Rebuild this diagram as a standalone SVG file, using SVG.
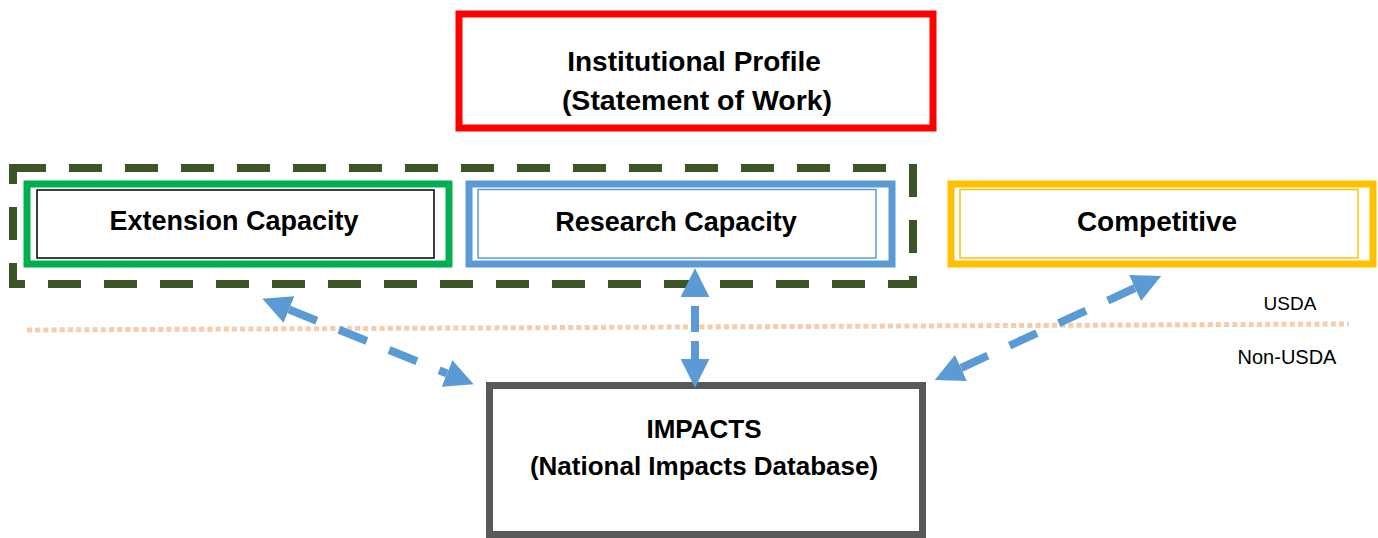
<svg xmlns="http://www.w3.org/2000/svg" width="1378" height="538" viewBox="0 0 1378 538">
<style>
.lbl{font-family:"Liberation Sans",Arial,sans-serif;font-weight:bold;font-size:26px;fill:#000;text-anchor:middle}
.sm{font-family:"Liberation Sans",Arial,sans-serif;font-size:19px;fill:#000;text-anchor:middle}
.box{fill:#fff;stroke-width:7}
.conn{fill:none;stroke:#5B9BD5;stroke-width:8;marker-start:url(#ah);marker-end:url(#ah)}
</style>
<defs>
<marker id="ah" viewBox="0 0 10 10" refX="0" refY="5" markerWidth="3.6" markerHeight="3.6" orient="auto-start-reverse" markerUnits="strokeWidth">
<path d="M0,0 L10,5 L0,10 z" fill="#5B9BD5"/>
</marker>
</defs>
<rect width="1378" height="538" fill="#fff"/>
<g id="divider">
<line x1="27" y1="330" x2="1349" y2="324" stroke="#F8CBAD" stroke-width="5" stroke-dasharray="5 3.2"/>
<text class="sm" x="1290" y="310">USDA</text>
<text class="sm" x="1287" y="364" style="font-size:20px">Non-USDA</text>
</g>
<g id="institutional-profile">
<rect class="box" x="459" y="14" width="474" height="114" stroke="#FF0000"/>
<text class="lbl" x="694" y="71" style="font-size:28px">Institutional Profile</text>
<text class="lbl" x="697" y="110" style="font-size:28.5px">(Statement of Work)</text>
</g>
<g id="capacity-group">
<rect x="13" y="168" width="900" height="116" fill="none" stroke="#3B5526" stroke-width="8" stroke-dasharray="33 23"/>
</g>
<g id="extension-capacity">
<rect class="box" x="27" y="184" width="422" height="80" stroke="#00B050"/>
<rect x="37" y="190" width="397" height="68" fill="none" stroke="#000" stroke-width="1.5"/>
<text class="lbl" x="234" y="230" style="font-size:27px">Extension Capacity</text>
</g>
<g id="research-capacity">
<rect class="box" x="469" y="184" width="423" height="80" stroke="#5B9BD5"/>
<rect x="478" y="189.5" width="398" height="68.5" fill="none" stroke="#5B9BD5" stroke-width="1.5"/>
<text class="lbl" x="676" y="231" style="font-size:27px">Research Capacity</text>
</g>
<g id="competitive">
<rect class="box" x="951" y="184" width="422" height="80" stroke="#FFC000"/>
<rect x="960" y="189.5" width="398" height="68.5" fill="none" stroke="#FFC000" stroke-width="1.5"/>
<text class="lbl" x="1157" y="231" style="font-size:28px">Competitive</text>
</g>
<g id="impacts">
<rect class="box" x="489.5" y="385.5" width="433" height="149" stroke="#595959"/>
<text class="lbl" x="704" y="438">IMPACTS</text>
<text class="lbl" x="704" y="475">(National Impacts Database)</text>
</g>
<g id="connectors">
<path class="conn" d="M289,309.5 L447,373.5" stroke-dasharray="30 24"/>
<path class="conn" d="M695,297 L695,359" stroke-dasharray="26 9" stroke-dashoffset="26"/>
<path class="conn" d="M1135,288 L961,368" stroke-dasharray="30 24"/>
</g>
</svg>
